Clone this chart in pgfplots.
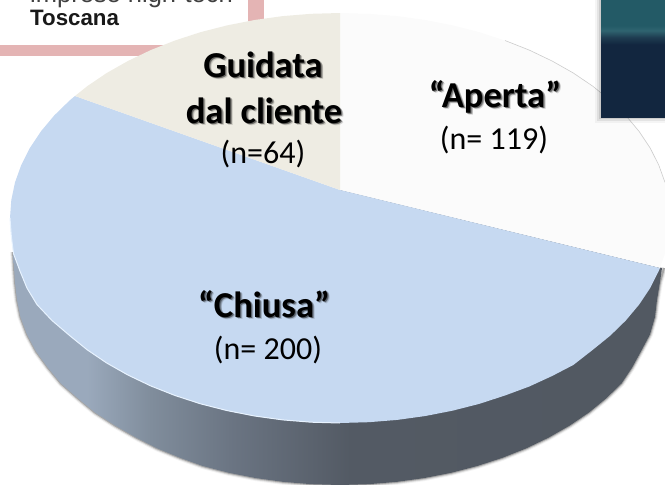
\documentclass[border=0pt]{standalone}
\usepackage{pgfplots}
\pgfplotsset{compat=1.18}
\usepackage{pgfplotstable}
\usepackage{fontspec}
\setmainfont{Carlito}
\newfontfamily\logofont{Liberation Sans}
\definecolor{cBlue}{HTML}{C6D9F1}
\definecolor{cBeige}{HTML}{EEECE3}
\definecolor{cWhite}{HTML}{FBFBFB}
\definecolor{cPink}{HTML}{E4B4B4}
\definecolor{cTeal}{HTML}{235A66}
\definecolor{cNavy}{HTML}{12263F}
\definecolor{sA}{HTML}{9AA9BC}
\definecolor{sB}{HTML}{808D9C}
\definecolor{sC}{HTML}{6A7482}
\definecolor{sD}{HTML}{535A64}
\definecolor{sE}{HTML}{50575F}
\definecolor{bA}{HTML}{1E3C50}
\definecolor{bB}{HTML}{2F6470}
\definecolor{rimL}{HTML}{E8F3FF}
\pgfdeclarehorizontalshading{sidegrad}{100bp}{
 color(0bp)=(sA);
 color(30.7bp)=(sA);
 color(35.6bp)=(sB);
 color(42bp)=(sC);
 color(51bp)=(sD);
 color(100bp)=(sE)}
\pgfdeclareverticalshading{boxgrad}{100bp}{
 color(0bp)=(cNavy);
 color(56bp)=(cNavy);
 color(59bp)=(bA);
 color(62bp)=(bB);
 color(64bp)=(cTeal);
 color(100bp)=(cTeal)}
\pgfplotstableread{
x y
662 268
660 282
657 300
655 317
650 334.5
641 351.4
632 367.8
621.5 383.5
606.2 398.4
589 412.5
569.8 425.5
548.9 437.5
526.4 448.3
502.5 457.8
477.3 466
451.2 472.8
424.1 478.1
396.4 481.9
368.3 484.2
340 485
311.7 484.2
283.6 481.9
255.9 478.1
228.8 472.8
202.7 466
180 457.8
157 448.3
136 437.5
115 425.5
95 412.5
78 398.4
61 383.5
48 367.8
36 351.4
27 334.5
20.5 317.2
17 300
15 282
13 252
340 190
662 268
}\sideT
\pgfplotstableread{
x y
340 190
340 13
368.8 13.8
397.3 16.1
425.4 20
452.9 25.4
479.5 32.2
505 40.5
529.3 50.1
552.1 61
573.3 73
592.8 86.2
610.3 100.4
625.8 115.5
639.1 131.4
650.1 147.9
658.7 164.9
665 182.4
668.7 200.1
670 218
668.7 235.9
665 253.6
660 268
340 190
}\wedgeA
\pgfplotstableread{
x y
340 190
660 268
658.7 271.1
650.1 288.1
639.1 304.6
625.8 320.5
610.3 335.6
592.8 349.8
573.3 365
552.1 376
529.3 386.5
505 395.5
479.5 403.8
452.9 410.6
425.4 416
397.3 419.9
368.8 422.2
340 423
311.2 422.2
282.7 419.9
254.6 416
227.1 410.6
200.5 403.8
175 395.5
150.7 385.9
127.9 375
106.7 363
87.2 349.8
69.7 335.6
52 320.5
37 304.6
27 288.1
20 271.1
13.5 253.6
11.3 235.9
10 218
11.3 200.1
15 182.4
21.3 164.9
29.9 147.9
40.9 131.4
54.2 115.5
69.7 100.4
75 96
340 190
}\wedgeB
\pgfplotstableread{
x y
340 190
75 96
87.2 86.2
106.7 73
127.9 61
150.7 50.1
175 40.5
200.5 32.2
227.1 25.4
254.6 20
282.7 16.1
311.2 13.8
340 13
340 190
}\wedgeC
\pgfplotstableread{
x y
664 268
660 282
657 300
655 317
650 334.5
641 351.4
632 367.8
621.5 383.5
606.2 398.4
589 412.5
569.8 425.5
548.9 437.5
526.4 448.3
502.5 457.8
477.3 466
451.2 472.8
424.1 478.1
396.4 481.9
368.3 484.2
340 485
311.7 484.2
283.6 481.9
255.9 478.1
228.8 472.8
202.7 466
180 457.8
157 448.3
136 437.5
115 425.5
95 412.5
78 398.4
61 383.5
48 367.8
36 351.4
27 334.5
20.5 317.2
17 300
15 282
13 252
}\sideLow
\newcommand\lbl[5]{% x, y, font, text, shadow?
 \ifnum#5=1
 \node[anchor=base,font=#3,text=black,opacity=.14] at (axis cs:#1+2.5,#2+2.5) {#4};
 \node[anchor=base,font=#3,text=black,opacity=.24] at (axis cs:#1+1.8,#2+1.8) {#4};
 \node[anchor=base,font=#3,text=black,opacity=.35] at (axis cs:#1+1,#2+1) {#4};
 \fi
 \node[anchor=base,font=#3,text=black] at (axis cs:#1,#2) {#4};
}
\begin{document}
\begin{tikzpicture}
\path[use as bounding box,clip] (0,0) rectangle (665pt,485pt);
\begin{axis}[at={(0,0)},anchor=south west,scale only axis,width=665pt,height=485pt,
 xmin=0,xmax=665,ymin=0,ymax=485,y dir=reverse,hide axis,clip=false]
% logo
\addplot[fill=cPink,draw=none,mark=none] coordinates {(0,0)(264,0)(264,56)(0,56)} --cycle;
\addplot[fill=white,draw=none,mark=none] coordinates {(0,0)(248,0)(248,45)(0,45)} --cycle;
\node[anchor=base west,font=\logofont\fontsize{25.5}{25.5}\selectfont,text=black!75,inner sep=0pt] at (axis cs:30,2) {imprese high-tech};
\node[anchor=base west,font=\logofont\bfseries\fontsize{22.3}{22.3}\selectfont,text=black!90,inner sep=0pt] at (axis cs:30,25) {Toscana};
% shadow and side of the pie
\addplot[draw=black,opacity=.05,line width=6pt,mark=none] table {\sideLow};
\addplot[draw=black,opacity=.12,line width=4pt,mark=none] table {\sideLow};
\addplot[draw=black,opacity=.22,line width=2pt,mark=none] table {\sideLow};
\addplot[shading=sidegrad,draw=none,mark=none] table {\sideT};
% wedges
\addplot[fill=cWhite,draw=none,mark=none] table {\wedgeA};
\addplot[fill=cBlue,draw=none,mark=none] table {\wedgeB};
\addplot[fill=cBeige,draw=none,mark=none] table {\wedgeC};
% rim of the white wedge
\addplot[draw=black!20,line width=.6pt,mark=none] coordinates {(505,40.5)(529.3,50.1)(552.1,61)(573.3,73)(592.8,86.2)(610.3,100.4)(625.8,115.5)(639.1,131.4)(650.1,147.9)(658.7,164.9)(665,182.4)};
% highlight on the lower rim
\addplot[draw=rimL,line width=1pt,mark=none] coordinates {(340,423)(311.2,422.2)(282.7,419.9)(254.6,416)(227.1,410.6)(200.5,403.8)(175,395.5)(150.7,385.9)(127.9,375)(106.7,363)(87.2,349.8)(69.7,335.6)(52,320.5)(37,304.6)(27,288.1)(20,271.1)(13.5,253.6)(11.3,235.9)(10,218)};
% dark box
\addplot[fill=black,draw=none,opacity=.04,mark=none] coordinates {(595,0)(670,0)(670,123)(595,123)} --cycle;
\addplot[fill=black,draw=none,opacity=.07,mark=none] coordinates {(597,0)(670,0)(670,121)(597,121)} --cycle;
\addplot[fill=black,draw=none,opacity=.10,mark=none] coordinates {(599,0)(670,0)(670,119)(599,119)} --cycle;
\addplot[shading=boxgrad,draw=none,mark=none] coordinates {(601,0)(670,0)(670,117)(601,117)} --cycle;
% labels
\lbl{263}{77}{\bfseries\fontsize{36.5}{36.5}\selectfont}{Guidata}{1}
\lbl{264}{123}{\bfseries\fontsize{36.5}{36.5}\selectfont}{dal cliente}{1}
\lbl{263}{163}{\fontsize{32}{32}\selectfont}{(n=64)}{0}
\lbl{495}{107}{\bfseries\fontsize{36.5}{36.5}\selectfont}{“Aperta”}{1}
\lbl{494}{149}{\fontsize{32}{32}\selectfont}{(n= 119)}{0}
\lbl{264}{317}{\bfseries\fontsize{36.5}{36.5}\selectfont}{“Chiusa”}{1}
\lbl{268}{359}{\fontsize{32}{32}\selectfont}{(n= 200)}{0}
\end{axis}
\end{tikzpicture}
\end{document}
